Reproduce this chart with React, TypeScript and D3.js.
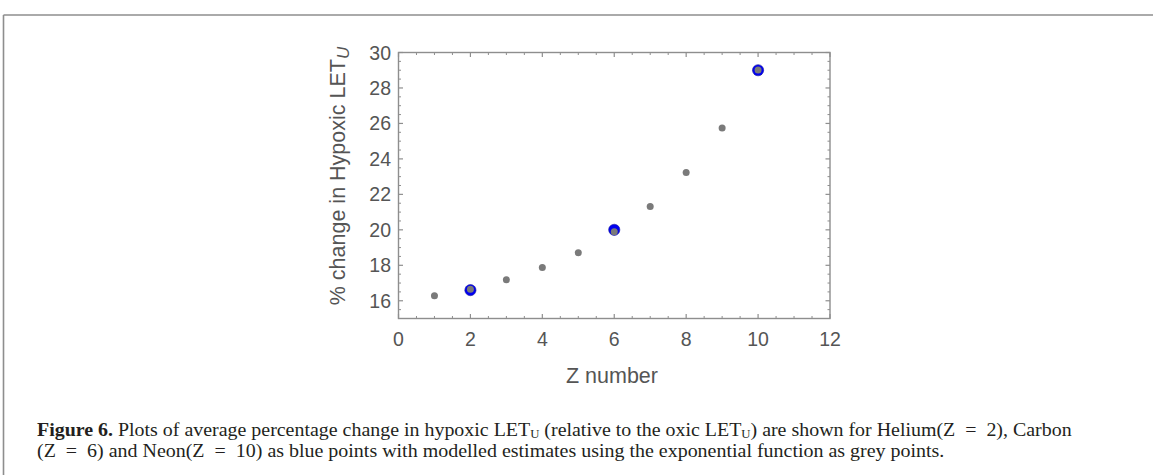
import React, { useLayoutEffect, useRef } from "react";
import * as d3 from "d3";

const zModel = [1, 2, 3, 4, 5, 6, 7, 8, 9, 10];
const modelValues = [16.28, 16.65, 17.18, 17.88, 18.71, 19.89, 21.32, 23.24, 25.74, 29.02];
const zMeasured = [2, 6, 10];
const measuredValues = [16.6, 20.0, 29.0];
const xMajorTicks = [0, 2, 4, 6, 8, 10, 12];
const yMajorTicks = [16, 18, 20, 22, 24, 26, 28, 30];
const xDomain = [0, 12];
const yDomain = [15, 30];
const xLabel = "Z number";
const yLabel = "% change in Hypoxic LET";
const ySub = "U";

const W = 1153;
const H = 475;
const plot = { left: 398.5, right: 830, top: 52.5, bottom: 318.5 };

const FRAME = "#8e8e8e";
const TEXT = "#555555";

function ScaledLine({ x, y, target, children }: any) {
  const ref = useRef<SVGTextElement>(null);
  useLayoutEffect(() => {
    const el = ref.current;
    if (!el) return;
    el.removeAttribute("transform");
    const w = el.getBBox().width;
    if (w > 0) {
      const s = target / w;
      el.setAttribute("transform", `translate(${x},0) scale(${s},1) translate(${-x},0)`);
    }
  }, [x, target]);
  return (
    <text ref={ref} x={x} y={y} fontFamily="'Liberation Serif', 'DejaVu Serif', serif" fontSize={18} fill="#231f20">
      {children}
    </text>
  );
}

export default function App() {
  const x = d3.scaleLinear().domain(xDomain).range([plot.left, plot.right]);
  const y = d3.scaleLinear().domain(yDomain).range([plot.bottom, plot.top]);
  const xMinor = d3.range(xDomain[0], xDomain[1] + 0.001, 0.5).filter((v) => !xMajorTicks.includes(v));
  const yMinor = d3.range(yDomain[0], yDomain[1] + 0.001, 0.5).filter((v) => !yMajorTicks.includes(v));
  const maj = 4.5;
  const min = 2.5;

  return (
    <svg width={W} height={H} style={{ position: "absolute", left: 0, top: 0, background: "#fff" }}>
      {/* outer figure box */}
      <line x1={3.5} y1={15} x2={W} y2={15} stroke={FRAME} strokeWidth={1.6} />
      <line x1={3.5} y1={15} x2={3.5} y2={H} stroke={FRAME} strokeWidth={1.6} />

      {/* frame */}
      <rect x={plot.left} y={plot.top} width={plot.right - plot.left} height={plot.bottom - plot.top} fill="none" stroke={FRAME} strokeWidth={1.4} />

      {/* x ticks */}
      {xMajorTicks.map((t) => (
        <g key={"xm" + t}>
          <line x1={x(t)} x2={x(t)} y1={plot.bottom} y2={plot.bottom - maj} stroke={FRAME} strokeWidth={1.2} />
          <line x1={x(t)} x2={x(t)} y1={plot.top} y2={plot.top + maj} stroke={FRAME} strokeWidth={1.2} />
          <text x={x(t)} y={346} textAnchor="middle" fontFamily="'Liberation Sans', Arial, sans-serif" fontSize={19.5} fill={TEXT}>
            {t}
          </text>
        </g>
      ))}
      {xMinor.map((t) => (
        <g key={"xn" + t}>
          <line x1={x(t)} x2={x(t)} y1={plot.bottom} y2={plot.bottom - min} stroke={FRAME} strokeWidth={1} />
          <line x1={x(t)} x2={x(t)} y1={plot.top} y2={plot.top + min} stroke={FRAME} strokeWidth={1} />
        </g>
      ))}

      {/* y ticks */}
      {yMajorTicks.map((t) => (
        <g key={"ym" + t}>
          <line x1={plot.left} x2={plot.left + maj} y1={y(t)} y2={y(t)} stroke={FRAME} strokeWidth={1.2} />
          <line x1={plot.right} x2={plot.right - maj} y1={y(t)} y2={y(t)} stroke={FRAME} strokeWidth={1.2} />
          <text x={391} y={y(t)} dy="0.36em" textAnchor="end" fontFamily="'Liberation Sans', Arial, sans-serif" fontSize={19.5} fill={TEXT}>
            {t}
          </text>
        </g>
      ))}
      {yMinor.map((t) => (
        <g key={"yn" + t}>
          <line x1={plot.left} x2={plot.left + min} y1={y(t)} y2={y(t)} stroke={FRAME} strokeWidth={1} />
          <line x1={plot.right} x2={plot.right - min} y1={y(t)} y2={y(t)} stroke={FRAME} strokeWidth={1} />
        </g>
      ))}

      {/* axis titles */}
      <text x={612} y={383} textAnchor="middle" fontFamily="'Liberation Sans', Arial, sans-serif" fontSize={21.5} fill={TEXT}>
        {xLabel}
      </text>
      <text
        transform="translate(345,176) rotate(-90)"
        textAnchor="middle"
        fontFamily="'Liberation Sans', Arial, sans-serif"
        fontSize={21.5}
        fill={TEXT}
      >
        {yLabel}
        <tspan fontStyle="italic" fontSize={17} dy={4}>
          {ySub}
        </tspan>
      </text>

      {/* measured points (blue) */}
      {zMeasured.map((z, i) => (
        <circle key={"b" + z} cx={x(z)} cy={y(measuredValues[i])} r={5.6} fill="#0000f0" stroke="#1a1aa0" strokeWidth={0.6} />
      ))}
      {/* modelled points (grey) */}
      {zModel.map((z, i) => (
        <circle key={"g" + z} cx={x(z)} cy={y(modelValues[i])} r={3.5} fill="#7a7a7a" />
      ))}

      {/* caption */}
      <ScaledLine x={37} y={436} target={1035}>
        <tspan fontWeight="bold">Figure 6.</tspan>
        {" Plots of average percentage change in hypoxic LET"}
        <tspan fontSize={11.5} dy={2.5}>U</tspan>
        <tspan dy={-2.5}>{" (relative to the oxic LET"}</tspan>
        <tspan fontSize={11.5} dy={2.5}>U</tspan>
        <tspan dy={-2.5}>{") are shown for Helium(Z\u2002=\u20022), Carbon"}</tspan>
      </ScaledLine>
      <ScaledLine x={37} y={457} target={908}>
        {"(Z\u2002=\u20026) and Neon(Z\u2002=\u200210) as blue points with modelled estimates using the exponential function as grey points."}
      </ScaledLine>
    </svg>
  );
}
